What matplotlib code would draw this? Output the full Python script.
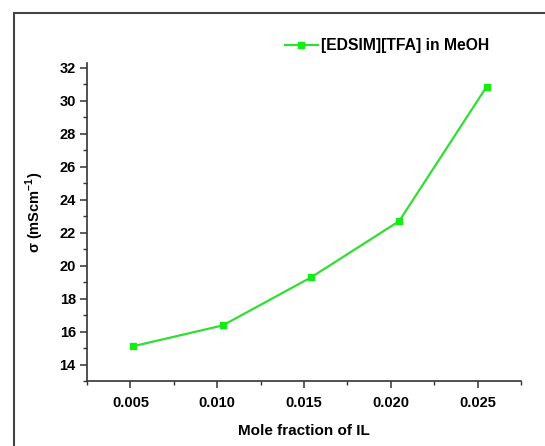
import matplotlib
matplotlib.use('Agg')
import matplotlib.pyplot as plt
from matplotlib.lines import Line2D
from matplotlib.ticker import MultipleLocator, FormatStrFormatter

plt.rcParams['font.family'] = ['Liberation Sans', 'DejaVu Sans']
plt.rcParams['mathtext.fontset'] = 'custom'
plt.rcParams['mathtext.rm'] = 'Liberation Sans'
plt.rcParams['mathtext.bf'] = 'Liberation Sans:bold'

# conductivity of [EDSIM][TFA] in methanol vs IL mole fraction
mole_frac = [0.00517, 0.01032, 0.01542, 0.02048, 0.02552]
sigma = [15.11, 16.37, 19.29, 22.69, 30.84]
series_label = '[EDSIM][TFA] in MeOH'

fig = plt.figure(figsize=(5.45, 4.46), dpi=100)
ax = fig.add_axes([0.1596, 0.1457, 0.7964, 0.714])

ax.plot(mole_frac, sigma, '-s', color='#33dd33', lw=1.6,
        marker='s', ms=5, mfc='#11ee11', mec='#11ee11', label=series_label)

ax.set_xlim(0.0025, 0.0275)
ax.set_ylim(13, 32.3)
ax.xaxis.set_major_locator(MultipleLocator(0.005))
ax.xaxis.set_minor_locator(MultipleLocator(0.0025))
ax.xaxis.set_major_formatter(FormatStrFormatter('%.3f'))
ax.yaxis.set_major_locator(MultipleLocator(2))
ax.yaxis.set_minor_locator(MultipleLocator(1))

for s in ['top', 'right']:
    ax.spines[s].set_visible(False)
for s in ['left', 'bottom']:
    ax.spines[s].set_linewidth(1.2)
    ax.spines[s].set_color('#333333')

ax.tick_params(which='major', direction='out', length=5, width=1.1,
               color='#333333', labelsize=10.5)
ax.tick_params(axis='x', which='major', pad=6)
ax.tick_params(axis='y', which='major', pad=3)
ax.tick_params(which='minor', direction='out', length=3, width=1.0,
               color='#333333')
for lab in ax.get_xticklabels() + ax.get_yticklabels():
    lab.set_fontweight('bold')

ax.set_xlabel('Mole fraction of IL', fontsize=11, fontweight='bold', labelpad=10)
ax.set_ylabel('σ (mScm$^{\\mathbf{-1}}$)', fontsize=10.5, fontweight='bold')
ax.yaxis.set_label_coords(-0.094, 0.53)

leg = ax.legend(loc='center left', bbox_to_anchor=(0.456, 1.053), frameon=False,
                handlelength=2.1, handletextpad=0.2, borderaxespad=0,
                borderpad=0, prop={'weight': 'bold', 'size': 11.3})

# outer frame, left and top edges only
fig.add_artist(Line2D([14 / 545, 14 / 545], [0, 1 - 13 / 446],
                      transform=fig.transFigure, color='#444444', lw=1.5))
fig.add_artist(Line2D([14 / 545, 1], [1 - 13 / 446, 1 - 13 / 446],
                      transform=fig.transFigure, color='#444444', lw=1.5))

fig.savefig('out.png', dpi=100)
